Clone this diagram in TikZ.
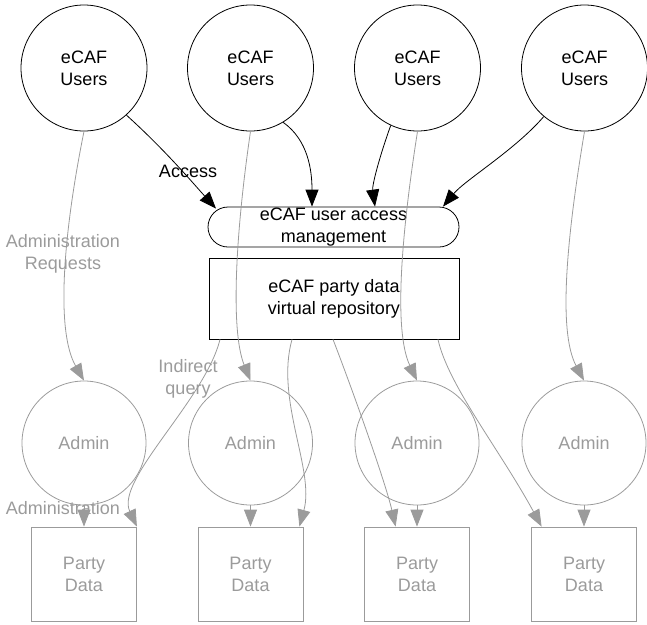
\documentclass[tikz,border=0pt]{standalone}
\usepackage{fontspec}
\setmainfont{Liberation Sans}
\usetikzlibrary{arrows.meta,calc}
\definecolor{lg}{RGB}{155,155,155}
\begin{document}
\begin{tikzpicture}[x=1pt,y=-1pt,
  font=\fontsize{18pt}{22pt}\selectfont,
  user/.style={circle,draw,line width=0.8pt,minimum size=126pt,inner sep=0pt,align=center},
  admin/.style={circle,draw=lg,text=lg,line width=0.8pt,minimum size=124pt,inner sep=0pt},
  party/.style={rectangle,draw=lg,text=lg,line width=0.8pt,minimum width=105pt,minimum height=94pt,inner sep=0pt,align=center},
  accessbox/.style={rectangle,draw,line width=0.8pt,rounded corners=20pt,minimum width=251pt,minimum height=40pt,inner sep=0pt,align=center},
  repo/.style={rectangle,draw,line width=0.8pt,minimum width=250pt,minimum height=81pt,inner sep=0pt,align=center},
  flow/.style={-{Triangle[length=17pt,width=13pt]},line width=0.8pt},
  grayflow/.style={flow,color=lg},
  glabel/.style={text=lg,align=center,inner sep=0pt},
  blabel/.style={align=center,inner sep=0pt}]
\useasboundingbox (0,0) rectangle (647,624);

% users
\node[user] (u1) at (84,68)    {eCAF\\Users};
\node[user] (u2) at (250.5,68) {eCAF\\Users};
\node[user] (u3) at (417.5,68) {eCAF\\Users};
\node[user] (u4) at (584.5,68) {eCAF\\Users};

% central components
\node[accessbox] (acc) at (333.5,227) {eCAF user access\\management};
\node[repo] (rep) at (334,298.5) {eCAF party data\\virtual repository};

% administrators
\node[admin] (a1) at (84,443)    {Admin};
\node[admin] (a2) at (250.5,443) {Admin};
\node[admin] (a3) at (417,443)   {Admin};
\node[admin] (a4) at (584,443)   {Admin};

% party data stores
\node[party] (p1) at (84,574)    {Party\\Data};
\node[party] (p2) at (250.5,574) {Party\\Data};
\node[party] (p3) at (417,574)   {Party\\Data};
\node[party] (p4) at (584,574)   {Party\\Data};

% access requests
\draw[flow] (u1.-48) .. controls (165,150) and (192,182) .. ([xshift=-117.5pt,yshift=-2pt]acc.north);
\draw[flow] (u2.-59) .. controls (308,140) and (312,170) .. ([xshift=-21.5pt]acc.north);
\draw[flow] (u3.-115) .. controls (380,155) and (372,185) .. ([xshift=41.5pt]acc.north);
\draw[flow] (u4.-130) .. controls (515,150) and (465,180) .. ([xshift=109.5pt]acc.north);
\node[blabel] (lacc) at (188,171) {Access};

% administration requests
\draw[grayflow] (u1.south) .. controls (64,230) and (55,330) .. (a1.north);
\draw[grayflow] (u2.south) .. controls (236,230) and (230,330) .. (a2.north);
\draw[grayflow] (u3.south) .. controls (402,230) and (393,330) .. (a3.north);
\draw[grayflow] (u4.south) .. controls (568,230) and (557,330) .. (a4.north);
\node[glabel] (lreq) at (63,253.5) {Administration\\Requests};

% indirect queries
\draw[grayflow] ([xshift=-114pt]rep.south) .. controls (205,400) and (115,480) .. (p1.north east);
\draw[grayflow] ([xshift=-42pt]rep.south) .. controls (275,400) and (315,470) .. ([xshift=-4pt]p2.north east);
\draw[grayflow] ([xshift=-1pt]rep.south) .. controls (348,378) and (385,480) .. ([xshift=31.5pt]p3.north west);
\draw[grayflow] ([xshift=104pt]rep.south) .. controls (448,385) and (500,450) .. ([xshift=10.5pt]p4.north west);
\node[glabel] (lqry) at (188,378.5) {Indirect\\query};

% administration
\draw[grayflow] (a1.south) -- (p1.north);
\draw[grayflow] (a2.south) -- (p2.north);
\draw[grayflow] (a3.south) -- (p3.north);
\draw[grayflow] (a4.south) -- (p4.north);
\node[glabel] (ladm) at (63,508) {Administration};
\end{tikzpicture}
\end{document}
